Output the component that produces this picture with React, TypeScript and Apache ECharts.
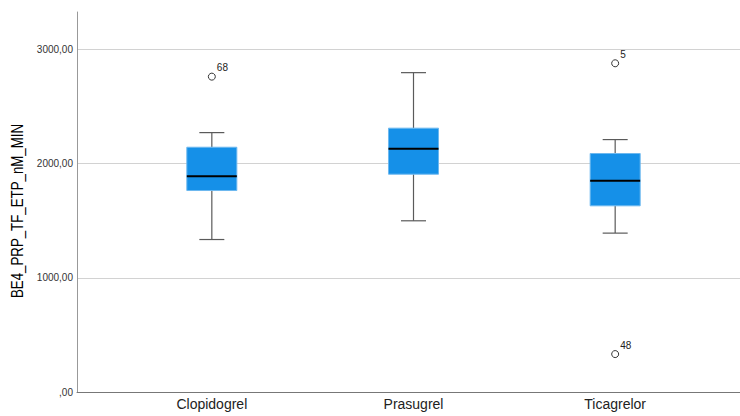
import React, { useEffect, useRef } from "react";
import * as echarts from "echarts";

const categories = ["Clopidogrel", "Prasugrel", "Ticagrelor"];
const whiskerLow = [1335, 1499, 1391];
const quartile1 = [1764, 1907, 1630];
const medians = [1890, 2129, 1849];
const quartile3 = [2143, 2310, 2088];
const whiskerHigh = [2271, 2796, 2210];
const outlierCategory = [0, 2, 2];
const outlierValues = [2761, 2878, 332];
const outlierIds = ["68", "5", "48"];
const yMax = 3327;
const yTickStep = 1000;
const yAxisTitle = "BE4_PRP_TF_ETP_nM_MIN";

const FONT = "'Liberation Sans', Arial, sans-serif";

function fmt(v: number): string {
  if (v % yTickStep !== 0) return "";
  if (v === 0) return ",00";
  return v.toFixed(2).replace(".", ",");
}

export default function App() {
  const ref = useRef<HTMLDivElement>(null);
  useEffect(() => {
    if (!ref.current) return;
    const chart = echarts.init(ref.current, undefined, { renderer: "svg" });
    const boxData = categories.map((_, i) => [
      i,
      whiskerLow[i],
      quartile1[i],
      medians[i],
      quartile3[i],
      whiskerHigh[i],
    ]);
    const outlierData = outlierCategory.map((c, k) => [c, outlierValues[k], outlierIds[k]]);
    chart.setOption({
      animation: false,
      backgroundColor: "#ffffff",
      textStyle: { fontFamily: FONT },
      grid: [
        { left: 77, right: 0, top: 12, bottom: 24, containLabel: false },
        { left: 111, width: 605, top: 12, bottom: 24, containLabel: false },
      ],
      xAxis: [
        {
          gridIndex: 0,
          type: "value",
          min: 0,
          max: 1,
          axisLine: { show: true, lineStyle: { color: "#777", width: 1 } },
          axisTick: { show: false },
          axisLabel: { show: false },
          splitLine: { show: false },
        },
        {
          gridIndex: 1,
          type: "category",
          data: categories,
          boundaryGap: true,
          axisLine: { show: false },
          axisTick: { show: false },
          axisLabel: { fontSize: 14, color: "#222", margin: 5, fontFamily: FONT },
          splitLine: { show: false },
        },
      ],
      yAxis: [
        {
          gridIndex: 0,
          type: "value",
          min: 0,
          max: yMax,
          interval: yTickStep,
          axisLine: { show: true, lineStyle: { color: "#999", width: 1 } },
          axisTick: { show: false },
          axisLabel: {
            fontSize: 10,
            color: "#333",
            margin: 4,
            showMaxLabel: false,
            formatter: (v: number) => fmt(v),
            fontFamily: FONT,
          },
          splitLine: {
            show: true,
            showMinLine: false,
            showMaxLine: false,
            lineStyle: { color: "#d2d2d2", width: 1 },
          },
        },
        {
          gridIndex: 1,
          type: "value",
          min: 0,
          max: yMax,
          show: false,
          splitLine: { show: false },
        },
      ],
      graphic: [
        {
          type: "text",
          x: 18,
          y: 211,
          rotation: Math.PI / 2,
          scaleX: 0.83,
          style: {
            text: yAxisTitle,
            fontSize: 16,
            fontFamily: FONT,
            fill: "#000",
            align: "center",
            verticalAlign: "middle",
          },
        },
      ],
      series: [
        {
          type: "custom",
          xAxisIndex: 1,
          yAxisIndex: 1,
          data: boxData,
          encode: { x: 0, y: [1, 2, 3, 4, 5] },
          renderItem: (_params: any, api: any) => {
            const i = api.value(0);
            const lo = api.coord([i, api.value(1)]);
            const b1 = api.coord([i, api.value(2)]);
            const md = api.coord([i, api.value(3)]);
            const b3 = api.coord([i, api.value(4)]);
            const hi = api.coord([i, api.value(5)]);
            const band = api.size([1, 0])[0];
            const bw = band * 0.248;
            const cw = bw / 2;
            const cx = md[0];
            const ws = { stroke: "#5a5a5a", lineWidth: 1.2 };
            return {
              type: "group",
              children: [
                { type: "line", shape: { x1: cx, y1: hi[1], x2: cx, y2: b3[1] }, style: ws },
                { type: "line", shape: { x1: cx, y1: b1[1], x2: cx, y2: lo[1] }, style: ws },
                { type: "line", shape: { x1: cx - cw / 2, y1: hi[1], x2: cx + cw / 2, y2: hi[1] }, style: ws },
                { type: "line", shape: { x1: cx - cw / 2, y1: lo[1], x2: cx + cw / 2, y2: lo[1] }, style: ws },
                {
                  type: "rect",
                  shape: { x: cx - bw / 2, y: b3[1], width: bw, height: b1[1] - b3[1] },
                  style: { fill: "#1590E8", stroke: "#6DB8EF", lineWidth: 1 },
                },
                {
                  type: "line",
                  shape: { x1: cx - bw / 2, y1: md[1], x2: cx + bw / 2, y2: md[1] },
                  style: { stroke: "#000", lineWidth: 2 },
                },
              ],
            };
          },
        },
        {
          type: "scatter",
          xAxisIndex: 1,
          yAxisIndex: 1,
          data: outlierData,
          symbol: "circle",
          symbolSize: 7,
          itemStyle: { color: "#ffffff", borderColor: "#333", borderWidth: 1, opacity: 1 },
          label: {
            show: true,
            position: "right",
            distance: 1,
            offset: [0, -9],
            fontSize: 10,
            color: "#222",
            fontFamily: FONT,
            formatter: (p: any) => p.value[2],
          },
        },
      ],
    });
    return () => chart.dispose();
  }, []);
  return (
    <div
      ref={ref}
      style={{ position: "fixed", left: 0, top: 0, width: 740, height: 416, background: "#fff" }}
    />
  );
}
